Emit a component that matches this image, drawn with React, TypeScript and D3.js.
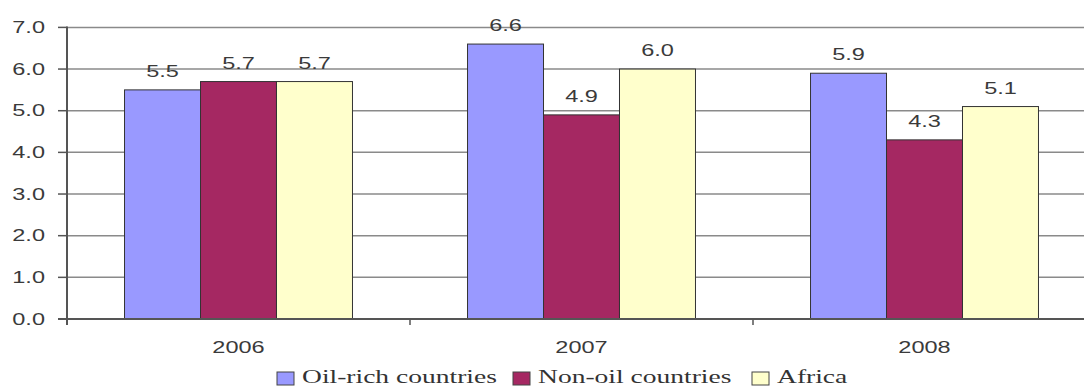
import React from "react";
import * as d3 from "d3";

const years = ["2006", "2007", "2008"];
const seriesNames = ["Oil-rich countries", "Non-oil countries", "Africa"];
const oilRich = [5.5, 6.6, 5.9];
const nonOil = [5.7, 4.9, 4.3];
const africa = [5.7, 6.0, 5.1];
const yTicks = [0, 1, 2, 3, 4, 5, 6, 7];

const colors = ["#9999ff", "#a52862", "#ffffcc"];
const seriesValues = [oilRich, nonOil, africa];

const W = 1084;
const H = 388;
const left = 67;
const bottom = 319;
const top = 27.4;
const stretch = 1.47;
const numFont = "'Liberation Sans', Arial, sans-serif";
const legendFont = "'Liberation Serif', 'Times New Roman', serif";

// stretched text, like the squashed-then-widened original image
const Txt = ({ x, y, children, anchor = "middle", size = 16, family = numFont, sx = stretch, fill = "#3a3a3a" }: any) => (
  <text
    transform={`translate(${x},${y}) scale(${sx},1)`}
    textAnchor={anchor}
    fontSize={size}
    fontFamily={family}
    fill={fill}
  >
    {children}
  </text>
);

export default function App() {
  const x = d3.scaleBand().domain(years).range([left, left + 343 * 3]).padding(0);
  const inner = d3
    .scaleBand()
    .domain(seriesNames)
    .range([0, x.bandwidth()])
    .paddingInner(0)
    .paddingOuter(0.757);
  const y = d3.scaleLinear().domain([0, 7]).range([bottom, top]);

  const legendX = [277, 513, 752];

  return (
    <svg width={W} height={H} style={{ position: "absolute", left: 0, top: 0, background: "#fff" }}>
      {/* gridlines */}
      {yTicks.map((t) => (
        <line key={"g" + t} x1={left} x2={W} y1={y(t)} y2={y(t)} stroke="#8a8a8a" strokeWidth={1.5} />
      ))}
      {/* y axis ticks + labels */}
      {yTicks.map((t) => (
        <g key={"t" + t}>
          <line x1={left - 9} x2={left} y1={y(t)} y2={y(t)} stroke="#555" strokeWidth={1.5} />
          <Txt x={45} y={y(t) + 5.5} anchor="end">
            {d3.format(".1f")(t)}
          </Txt>
        </g>
      ))}
      {/* bars */}
      {years.map((yr, i) => (
        <g key={yr} transform={`translate(${x(yr)},0)`}>
          {seriesNames.map((s, j) => {
            const v = seriesValues[j][i];
            const bx = inner(s) as number;
            return (
              <g key={s}>
                <rect
                  x={bx}
                  y={y(v)}
                  width={inner.bandwidth()}
                  height={y(0) - y(v)}
                  fill={colors[j]}
                  stroke="#333"
                  strokeWidth={1}
                />
                <Txt x={bx + inner.bandwidth() / 2} y={y(v) - 13}>
                  {d3.format(".1f")(v)}
                </Txt>
              </g>
            );
          })}
        </g>
      ))}
      {/* axes */}
      <line x1={left} x2={left} y1={y(7) - 1} y2={bottom + 6} stroke="#555" strokeWidth={2} />
      <line x1={left - 9} x2={W} y1={bottom} y2={bottom} stroke="#555" strokeWidth={2} />
      {years.slice(1).map((yr) => (
        <line key={"xt" + yr} x1={x(yr)} x2={x(yr)} y1={bottom} y2={bottom + 6} stroke="#555" strokeWidth={1.5} />
      ))}
      {years.map((yr) => (
        <Txt key={"xl" + yr} x={(x(yr) as number) + x.bandwidth() / 2} y={353}>
          {yr}
        </Txt>
      ))}
      {/* legend */}
      {seriesNames.map((s, j) => (
        <g key={"l" + s}>
          <rect x={legendX[j]} y={372} width={17} height={13} fill={colors[j]} stroke="#444" strokeWidth={1} />
          <Txt x={legendX[j] + 25} y={383} anchor="start" size={18} family={legendFont} sx={1.53} fill="#333">
            {s}
          </Txt>
        </g>
      ))}
    </svg>
  );
}
